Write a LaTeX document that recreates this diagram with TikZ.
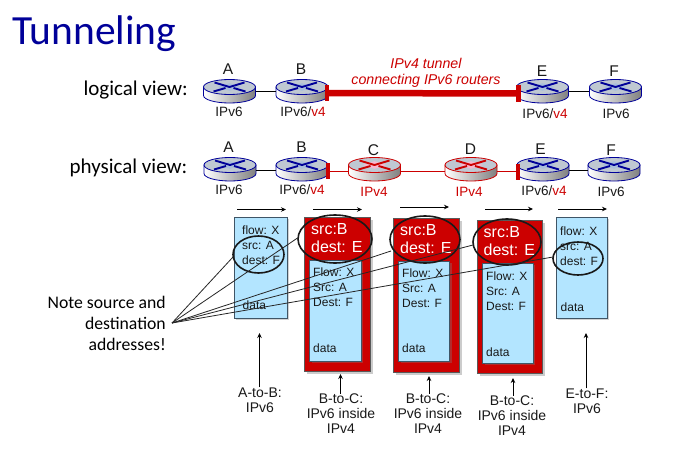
\documentclass[tikz,border=0pt]{standalone}
\usepackage{fontspec}
\setmainfont{Liberation Sans}
\newfontfamily\segoe{Carlito}
\usetikzlibrary{shadows,arrows.meta,calc}
\definecolor{tred}{HTML}{CC0000}
\definecolor{tblue}{HTML}{000099}
\definecolor{pblue}{HTML}{B3E5FF}
\definecolor{pedge}{HTML}{3F5566}
\definecolor{rtop}{HTML}{BFC8D2}
\definecolor{bglow}{HTML}{A9BEDC}
\definecolor{rglow}{HTML}{F6B8D0}
\tikzset{
  x=1pt,y=-1pt,
  lbl/.style={font=\fontsize{13.5}{15}\selectfont,inner sep=0pt,align=center,text=black!90},
  captxt/.style={font=\fontsize{14}{15}\selectfont,inner sep=0pt,align=center,text=black!90},
  rname/.style={font=\fontsize{15.5}{17}\selectfont,inner sep=0pt,text=black!90},
  rbox/.style={minimum width=52pt,minimum height=24pt,inner sep=0pt},
  view/.style={font=\segoe\fontsize{21}{24}\selectfont,inner sep=0pt,anchor=east,text=black},
  pkt/.style={draw=pedge,line width=.8pt,fill=pblue,inner sep=0pt,drop shadow={opacity=.35,shadow xshift=2pt,shadow yshift=-2pt}},
  rpkt/.style={draw=black!65,line width=.5pt,fill=tred,inner sep=0pt,drop shadow={opacity=.4,shadow xshift=2.5pt,shadow yshift=-2.5pt}},
  ptext/.style={font=\fontsize{12}{15}\selectfont,inner sep=0pt,anchor=north west,align=left,text=black!90},
  rtext/.style={font=\fontsize{16}{18.5}\selectfont,text=white,inner sep=0pt,anchor=north west,align=left},
  ring/.style={draw=black!90,line width=1.6pt},
  note/.style={-{Stealth[length=5pt,width=4.5pt]},line width=.8pt,black},
  tie/.style={line width=.8pt,black!85},
  conn/.style={line width=.8pt,black},
  rconn/.style={line width=.8pt,tred},
  bar/.style={fill=tred,inner sep=0pt,minimum width=4.5pt,minimum height=16pt},
}
% \routerdev{name}{x}{y}{edge}{cross}{glow}
\newcommand{\routerdev}[6]{%
  \begin{scope}[shift={(#2,#3)}]
    \path[left color=white,right color=black!50,draw=#4,line width=.8pt]
      (-26,0) -- (-26,8.5) arc[start angle=180,end angle=0,x radius=26,y radius=7.5] -- (26,0) -- cycle;
    \path[fill=rtop,draw=#4,line width=.8pt]
      (0,0) ellipse[x radius=26,y radius=7.5];
    \fill[#6] (-12,0) -- (0,-3.8) -- (12,0) -- (0,3.8) -- cycle;
    \draw[#5,line width=1.9pt] (-16,4.5) -- (-4,1);
    \draw[#5,line width=1.9pt] (4,1) -- (16,4.5);
    \draw[#5,line width=1.9pt] (-15,-4.5) -- (0,0) -- (15,-4.5);
  \end{scope}
  \node[rbox] (#1) at (#2,#3+4) {};%
}
\begin{document}
\begin{tikzpicture}
\useasboundingbox (0,0) rectangle (698,452);
\fill[white] (0,0) rectangle (698,452);
\node[font=\segoe\fontsize{41.5}{46}\selectfont,text=tblue,inner sep=0pt,anchor=base west] (title) at (12,45) {Tunneling};
\node[view] (logical) at (188,90) {logical view:};
\node[view] (physical) at (187.5,168) {physical view:};

% logical view routers
\routerdev{la}{229.5}{87}{tblue}{tblue}{bglow}
\routerdev{lb}{302}{87}{tblue}{tblue}{bglow}
\routerdev{le}{542.5}{87}{tblue}{tblue}{bglow}
\routerdev{lf}{615.5}{87}{tblue}{tblue}{bglow}
\node[bar] (lbbar) at (327,93) {};
\node[bar,minimum height=17pt] (lebar) at (518.5,93.5) {};
\draw[conn] (la.east) ++(0,.5) -- ($(lb.west)+(0,.5)$);
\draw[conn] (le.east) ++(0,.5) -- ($(lf.west)+(0,.5)$);
\draw[tred,line width=6.5pt] (lbbar.center) -- (lebar.center);
\node[rname] (lat) at (228,69) {A};
\node[rname] (lbt) at (301,69) {B};
\node[rname] (let) at (542,71) {E};
\node[rname] (lft) at (614,71) {F};
\node[lbl] (lal) at (229,112) {IPv6};
\node[lbl] (lbl2) at (303,112) {IPv6/\textcolor{tred}{v4}};
\node[lbl] (lel) at (545,114) {IPv6/\textcolor{tred}{v4}};
\node[lbl] (lfl) at (616,114) {IPv6};
\node[font=\itshape\fontsize{14.2}{15.5}\selectfont,text=tred,align=center,inner sep=0pt] (tunnel) at (426,73) {IPv4 tunnel\\connecting IPv6 routers};

% physical view routers
\routerdev{pa}{230}{165}{tblue}{tblue}{bglow}
\routerdev{pb}{302}{165}{tblue}{tblue}{bglow}
\routerdev{pc}{374.5}{165}{tred}{tred}{rglow}
\routerdev{pd}{471}{165}{tred}{tred}{rglow}
\routerdev{pe}{543}{165}{tblue}{tblue}{bglow}
\routerdev{pf}{614}{165}{tblue}{tblue}{bglow}
\node[bar] (pbbar) at (328,171) {};
\node[bar] (pebar) at (518,171.5) {};
\draw[conn] (pa.east) ++(0,1.5) -- ($(pb.west)+(0,1.5)$);
\draw[conn] (pe.east) ++(0,1.5) -- ($(pf.west)+(0,1.5)$);
\draw[rconn] (pbbar.east) -- (pc.west |- pbbar.east);
\draw[rconn] (pc.east |- pbbar.east) -- (pd.west |- pbbar.east);
\draw[rconn] (pd.east |- pbbar.east) -- (pebar.west |- pbbar.east);
\node[rname] (pat) at (228.5,147) {A};
\node[rname] (pbt) at (301.5,147) {B};
\node[rname] (pct) at (373.5,150) {C};
\node[rname] (pdt) at (470.5,149) {D};
\node[rname] (pet) at (540.5,149) {E};
\node[rname] (pft) at (611,150) {F};
\node[lbl] (pal) at (229,190) {IPv6};
\node[lbl] (pbl) at (302,190) {IPv6/\textcolor{tred}{v4}};
\node[lbl,text=tred] (pcl) at (374,192) {IPv4};
\node[lbl,text=tred] (pdl) at (469,192) {IPv4};
\node[lbl] (pel) at (544,191) {IPv6/\textcolor{tred}{v4}};
\node[lbl] (pfl) at (611,192) {IPv6};

% flow arrows
\coordinate (f1a) at (237,209.5); \coordinate (f1b) at (286,209.5);
\coordinate (f2a) at (313,209.5); \coordinate (f2b) at (362,209.5);
\coordinate (f3a) at (400,207);   \coordinate (f3b) at (449,207);
\coordinate (f4a) at (485,209);   \coordinate (f4b) at (533,209);
\coordinate (f5a) at (558,209);   \coordinate (f5b) at (607,209);
\foreach \i in {1,...,5} \draw[note] (f\i a) -- (f\i b);

% packets
\path[pkt] (234,217) rectangle (287,318);
\node[ptext] (t1) at (242,225.5) {flow: X\\src: A\\dest: F};
\node[ptext] (d1) at (242.5,301) {data};

\path[rpkt] (304,217.5) rectangle (370,371);
\path[pkt] (309.5,260) rectangle (361,361);
\node[rtext] (h2) at (311,223) {src:B\\dest: E};
\node[ptext] (t2) at (313,268) {Flow: X\\Src: A\\Dest: F};
\node[ptext] (d2) at (313,344) {data};

\path[rpkt] (393,218) rectangle (459,372);
\path[pkt] (398.5,261) rectangle (449.5,361);
\node[rtext] (h3) at (400,224) {src:B\\dest: E};
\node[ptext] (t3) at (402,268.5) {Flow: X\\Src: A\\Dest: F};
\node[ptext] (d3) at (402,344) {data};

\path[rpkt] (477.5,220) rectangle (542.5,373);
\path[pkt] (482.5,263) rectangle (533,363);
\node[rtext] (h4) at (483.5,226) {src:B\\dest: E};
\node[ptext] (t4) at (486,272) {Flow: X\\Src: A\\Dest: F};
\node[ptext] (d4) at (486,347.5) {data};

\path[pkt] (556,217) rectangle (607,318);
\node[ptext] (t5) at (560,227) {flow: X\\src: A\\dest: F};
\node[ptext] (d5) at (560.5,303) {data};

% rings
\coordinate (r1w) at (233,257);
\coordinate (r2w) at (297.5,238);
\coordinate (r3w) at (391,251);
\coordinate (r4w) at (473,245);
\coordinate (r5w) at (553,257);
\draw[ring] (258.5,254.5) ellipse[x radius=25.5,y radius=18.5];
\draw[ring] (335,239) ellipse[x radius=37,y radius=24];
\draw[ring] (425,239.5) ellipse[x radius=35,y radius=23.5];
\draw[ring] (507,242) ellipse[x radius=34,y radius=23];
\draw[ring] (578,258.5) ellipse[x radius=25,y radius=16.5];

% note
\node[font=\segoe\fontsize{17.7}{21}\selectfont,inner sep=0pt,align=right,anchor=east,text=black] (note) at (166,323) {Note source and\\destination\\addresses!};
\coordinate (hub) at (172,323);
\foreach \i in {1,...,5} \draw[tie] (hub) -- (r\i w);

% captions
\node[captxt] (c1) at (260,400) {A-to-B:\\IPv6};
\node[captxt] (c2) at (341,414) {B-to-C:\\IPv6 inside\\IPv4};
\node[captxt] (c3) at (428,414) {B-to-C:\\IPv6 inside\\IPv4};
\node[captxt] (c4) at (512,416) {B-to-C:\\IPv6 inside\\IPv4};
\node[captxt] (c5) at (587,401) {E-to-F:\\IPv6};
\coordinate (u1) at (259.5,333); \coordinate (u2) at (340.5,374);
\coordinate (u3) at (429,376); \coordinate (u4) at (513,378); \coordinate (u5) at (586,333);
\foreach \i in {1,...,5} \draw[note] (c\i.north -| u\i) -- (u\i);
\end{tikzpicture}
\end{document}
